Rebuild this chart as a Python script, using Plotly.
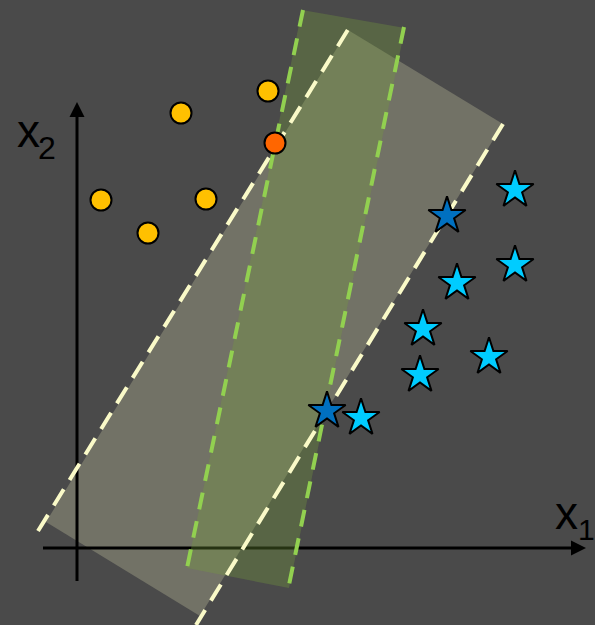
import plotly.graph_objects as go

# Coordinates are in pixel-sized units, origin at the axis crossing (y up).

# Class A: circles
circle_x = [104, 191, 24, 129, 71]
circle_y = [435, 457, 348, 349, 315]
# support vector of class A
sv_circle_x = [198]
sv_circle_y = [405]

# Class B: stars
star_x = [438, 438, 380, 346, 412, 343, 284]
star_y = [358, 283, 265, 219, 191, 173, 130]
# support vectors of class B
sv_star_x = [370, 250]
sv_star_y = [332, 137]

# wide-margin band (grey) and narrow band (green), corner points
wide_band_x = [271, 426, 123, -31]
wide_band_y = [518, 424, -68, 26]
narrow_band_x = [225, 328, 212, 110]
narrow_band_y = [538, 520, -40, -20]

# dashed boundary lines
wide_left_x, wide_left_y = [-39, 272], [17, 520]
wide_right_x, wide_right_y = [426, 119], [424, -77]
narrow_left_x, narrow_left_y = [226, 110], [538, -20]
narrow_right_x, narrow_right_y = [327, 212], [521, -37]

# axes extents
x_axis_from, x_axis_to = -34, 509
y_axis_from, y_axis_to = -33, 446

# axis label pieces: (text, x, y, font size)
axis_label_parts = [("x", -49, 417, 46), ("2", -30, 400, 32),
                    ("x", 489, 35, 46), ("1", 509, 19, 30)]

BG = "#4a4a4a"
fig = go.Figure()

fig.add_trace(go.Scatter(
    x=wide_band_x + [wide_band_x[0]], y=wide_band_y + [wide_band_y[0]],
    mode="lines", fill="toself", fillcolor="#727266",
    line=dict(width=0), hoverinfo="skip"))

# axes with arrowheads
head_len, head_half = 15, 7.5
fig.add_trace(go.Scatter(
    x=[x_axis_from, x_axis_to - head_len + 1], y=[0, 0], mode="lines",
    line=dict(color="black", width=3), hoverinfo="skip"))
fig.add_trace(go.Scatter(
    x=[0, 0], y=[y_axis_from, y_axis_to - head_len + 1], mode="lines",
    line=dict(color="black", width=3), hoverinfo="skip"))
fig.add_trace(go.Scatter(
    x=[x_axis_to, x_axis_to - head_len, x_axis_to - head_len, x_axis_to],
    y=[0, head_half, -head_half, 0], mode="lines", fill="toself",
    fillcolor="black", line=dict(width=0, color="black"), hoverinfo="skip"))
fig.add_trace(go.Scatter(
    x=[0, head_half, -head_half, 0],
    y=[y_axis_to, y_axis_to - head_len, y_axis_to - head_len, y_axis_to],
    mode="lines", fill="toself", fillcolor="black",
    line=dict(width=0, color="black"), hoverinfo="skip"))

fig.add_trace(go.Scatter(
    x=narrow_band_x + [narrow_band_x[0]], y=narrow_band_y + [narrow_band_y[0]],
    mode="lines", fill="toself", fillcolor="rgba(118,158,60,0.32)",
    line=dict(width=0), hoverinfo="skip"))

for lx, ly in [(wide_left_x, wide_left_y), (wide_right_x, wide_right_y)]:
    fig.add_trace(go.Scatter(
        x=lx, y=ly, mode="lines",
        line=dict(color="#FAFAC8", width=4, dash="19px,11px"),
        hoverinfo="skip"))
for lx, ly in [(narrow_left_x, narrow_left_y), (narrow_right_x, narrow_right_y)]:
    fig.add_trace(go.Scatter(
        x=lx, y=ly, mode="lines",
        line=dict(color="#92D050", width=4, dash="17px,12px"),
        hoverinfo="skip"))

fig.add_trace(go.Scatter(
    x=circle_x, y=circle_y, mode="markers",
    marker=dict(symbol="circle", size=21, color="#FFC000",
                line=dict(color="black", width=2))))
fig.add_trace(go.Scatter(
    x=sv_circle_x, y=sv_circle_y, mode="markers",
    marker=dict(symbol="circle", size=21, color="#FF6600",
                line=dict(color="black", width=2))))
fig.add_trace(go.Scatter(
    x=star_x, y=star_y, mode="markers",
    marker=dict(symbol="star", size=28, color="#00CCFF",
                line=dict(color="black", width=2))))
fig.add_trace(go.Scatter(
    x=sv_star_x, y=sv_star_y, mode="markers",
    marker=dict(symbol="star", size=28, color="#0070C0",
                line=dict(color="black", width=2))))

for txt, tx, ty, size in axis_label_parts:
    fig.add_annotation(x=tx, y=ty, text=txt, showarrow=False, borderpad=0,
                       xanchor="center", yanchor="middle",
                       font=dict(family="Liberation Sans, Arial, sans-serif",
                                 size=size, color="black"))

fig.update_layout(
    width=595, height=625, margin=dict(l=0, r=0, t=0, b=0),
    paper_bgcolor=BG, plot_bgcolor=BG, showlegend=False,
    xaxis=dict(range=[-77, 518], visible=False, fixedrange=True),
    yaxis=dict(range=[-77, 548], visible=False, fixedrange=True),
)

fig.write_html("out.html")
